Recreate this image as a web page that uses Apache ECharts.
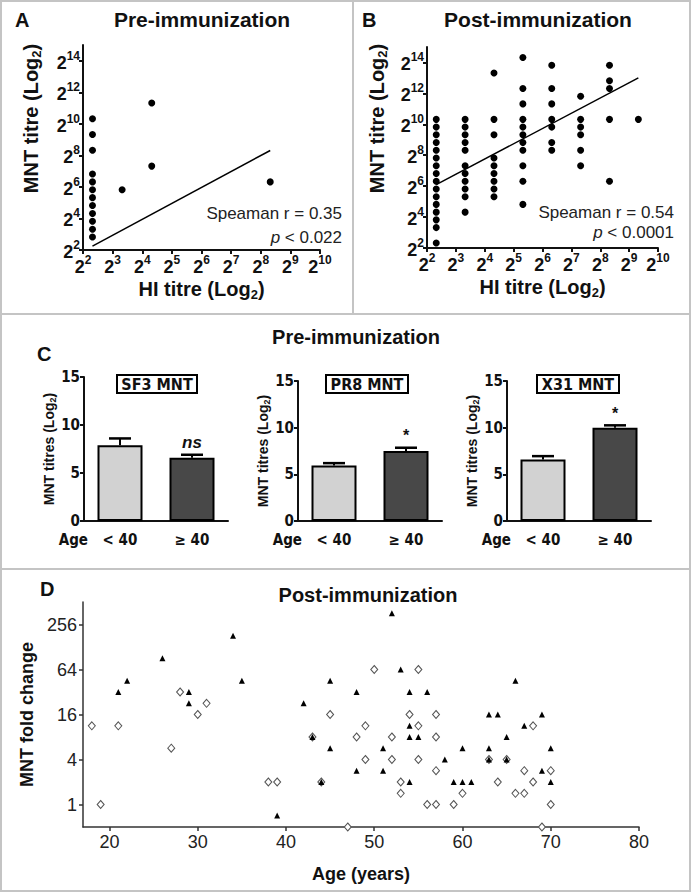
<!DOCTYPE html>
<html>
<head>
<meta charset="utf-8">
<title>MNT titres</title>
<script src="https://cdn.jsdelivr.net/npm/echarts@6.0.0/dist/echarts.min.js"></script>
<style>
  html, body { margin: 0; padding: 0; background: #fff; }
  #chart { width: 692px; height: 893px; }
</style>
</head>
<body>
<div id="chart"></div>
<script>
// A - pre-immunization, HI vs MNT (log2 titres)
const preHI  = [2.32, 2.32, 2.32, 2.32, 2.32, 2.32, 2.32, 2.32, 2.32, 2.32, 2.32, 2.32, 3.32, 4.32, 4.32, 8.32];
const preMNT = [10.32, 9.32, 8.32, 6.82, 6.32, 5.82, 5.32, 4.82, 4.32, 3.82, 3.32, 2.82, 5.82, 11.32, 7.32, 6.32];
const preFit = [[2.32, 2.25], [8.32, 8.31]];

// B - post-immunization, one list of MNT per HI column
const postHI = [2.32, 3.32, 4.32, 5.32, 6.32, 7.32, 8.32, 9.32];
const postMNT = [
  [10.32, 9.82, 9.32, 8.82, 8.32, 7.82, 7.32, 6.82, 6.32, 5.82, 5.32, 4.82, 4.32, 3.82, 3.32, 2.32],
  [10.32, 9.82, 9.32, 8.82, 8.32, 7.32, 6.82, 6.32, 5.82, 5.32, 4.32],
  [13.32, 10.32, 9.32, 7.82, 7.32, 6.82, 6.32, 5.82, 5.32],
  [14.32, 12.32, 11.32, 10.32, 9.82, 9.32, 8.82, 8.32, 7.32, 6.32, 4.82],
  [13.82, 12.32, 11.32, 10.32, 9.82, 8.82, 8.32],
  [11.82, 10.32, 9.82, 9.32, 8.32, 7.32],
  [13.82, 12.82, 12.32, 10.32, 6.32],
  [10.32]
];
const postFit = [[2.32, 6.1], [9.32, 13.0]];
const log2Ticks = [2, 4, 6, 8, 10, 12, 14];
const hiTicks = [2, 3, 4, 5, 6, 7, 8, 9, 10];

// C - mean MNT titres by age group
const ageGroups = ['< 40', '≥ 40'];
const sf3Mean = [7.9, 6.6],  sf3Err = [8.6, 6.9],   sf3Sig = ['', 'ns'];
const pr8Mean = [5.95, 7.5], pr8Err = [6.2, 7.85],  pr8Sig = ['', '*'];
const x31Mean = [6.6, 10.0], x31Err = [6.95, 10.25], x31Sig = ['', '*'];

// D - fold change vs age
const triAge  = [21, 22, 26, 29, 29, 34, 35, 39, 42, 43, 44, 45, 45, 48, 48, 51, 51, 52, 53, 54, 54, 54, 54, 55, 56, 58, 59, 60, 60, 61, 63, 63, 63, 64, 65, 65, 66, 67, 69, 69, 70, 70];
const triFold = [32, 45.3, 90.5, 32, 22.6, 181, 45.3, 0.71, 22.6, 8, 2, 45.3, 5.66, 32, 2.83, 5.66, 2.83, 362, 64, 32, 11.3, 8, 2, 8, 32, 4, 2, 5.66, 2, 2, 16, 5.66, 4, 16, 8, 4, 45.3, 11.3, 16, 2.83, 5.66, 2];
const diaAge  = [18, 19, 21, 27, 28, 30, 31, 38, 39, 43, 44, 45, 47, 48, 49, 49, 50, 52, 52, 53, 53, 54, 55, 55, 55, 56, 57, 57, 57, 57, 59, 60, 63, 64, 65, 66, 67, 67, 68, 68, 69, 70, 70];
const diaFold = [11.3, 1, 11.3, 5.66, 32, 16, 22.6, 2, 2, 8, 2, 16, 0.5, 8, 11.3, 4, 64, 8, 4, 2, 1.41, 16, 64, 11.3, 4, 1, 16, 8, 2.83, 1, 1, 1.41, 4, 2, 4, 1.41, 2.83, 1.41, 11.3, 2, 0.5, 2.83, 1];
const foldTicks = [1, 4, 16, 64, 256];
const ageTicks = [20, 30, 40, 50, 60, 70, 80];

const sans = '"Liberation Sans", Arial, sans-serif';
const narrow = '"Liberation Sans Narrow", "DejaVu Sans Condensed", sans-serif';
const ink = '#111';

const chart = echarts.init(document.getElementById('chart'), null, { renderer: 'svg' });

// label like 2^n with a raised exponent
const powRich = {
  b: { fontSize: 18, fontWeight: 'bold', fontFamily: sans, color: ink, lineHeight: 22, verticalAlign: 'bottom' },
  s: { fontSize: 12, fontWeight: 'bold', fontFamily: sans, color: ink, verticalAlign: 'top' }
};
const powFmt = v => '{b|2}{s|' + v + '}';
const subRich = { sub: { fontSize: 13, fontWeight: 'bold', fontFamily: sans, color: ink, verticalAlign: 'bottom' } };

function logAxisX(grid) {
  return {
    type: 'value', gridIndex: grid, min: 2, max: 10,
    name: 'HI titre (Log{sub|2})', nameLocation: 'middle', nameGap: 25,
    nameTextStyle: { fontSize: 20, fontWeight: 'bold', fontFamily: sans, color: ink, lineHeight: 24, rich: subRich },
    axisLine: { lineStyle: { color: ink, width: 2 } },
    axisTick: { length: 4, customValues: hiTicks, lineStyle: { color: ink, width: 2 } },
    axisLabel: { customValues: hiTicks, formatter: powFmt, rich: powRich, margin: 4 },
    splitLine: { show: false }
  };
}
function logAxisY(grid, gap) {
  return {
    type: 'value', gridIndex: grid, min: 2, max: 15,
    name: 'MNT titre (Log{sub|2})', nameLocation: 'middle', nameGap: gap,
    nameTextStyle: { fontSize: 20, fontWeight: 'bold', fontFamily: sans, color: ink, lineHeight: 24, padding: [0, 0, 0, 58], rich: subRich },
    axisLine: { lineStyle: { color: ink, width: 2 } },
    axisTick: { length: 4, customValues: log2Ticks, lineStyle: { color: ink, width: 2 } },
    axisLabel: { customValues: log2Ticks, formatter: powFmt, rich: powRich, margin: 3 },
    splitLine: { show: false }
  };
}
function barAxisX(grid) {
  return {
    type: 'category', gridIndex: grid, data: ageGroups,
    name: 'Age', nameLocation: 'start', nameGap: -4,
    nameTextStyle: { fontSize: 15, fontWeight: 'bold', fontFamily: narrow, color: ink, verticalAlign: 'top', padding: [11, 0, 0, 0] },
    axisLine: { lineStyle: { color: ink, width: 2 } },
    axisTick: { show: false },
    axisLabel: { fontSize: 15, fontWeight: 'bold', fontFamily: narrow, color: ink, margin: 11 }
  };
}
function barAxisY(grid) {
  return {
    type: 'value', gridIndex: grid, min: 0, max: 15, interval: 5,
    name: 'MNT titres (Log{sub|2})', nameLocation: 'middle', nameGap: 27,
    nameTextStyle: { fontSize: 14, fontWeight: 'bold', fontFamily: sans, color: ink, lineHeight: 17,
      rich: { sub: { fontSize: 9, fontWeight: 'bold', fontFamily: sans, color: ink, verticalAlign: 'bottom' } } },
    axisLine: { show: true, lineStyle: { color: ink, width: 2 } },
    axisTick: { show: true, length: 4, lineStyle: { color: ink, width: 2 } },
    axisLabel: { fontSize: 15, fontWeight: 'bold', fontFamily: narrow, color: ink, margin: 4 },
    splitLine: { show: false }
  };
}
function barSeries(axis, means) {
  return {
    type: 'bar', xAxisIndex: axis, yAxisIndex: axis, barWidth: 45,
    data: means.map((m, i) => ({ value: m, itemStyle: { color: i === 0 ? '#d2d2d2' : '#484848' } })),
    itemStyle: { borderColor: '#000', borderWidth: 2 }
  };
}
function errSeries(axis, means, errs, sigs) {
  return {
    type: 'custom', xAxisIndex: axis, yAxisIndex: axis, z: 3,
    data: means.map((m, i) => [i, m, errs[i]]),
    renderItem: (params, api) => {
      const base = api.coord([api.value(0), api.value(1)]);
      const top = api.coord([api.value(0), api.value(2)]);
      const kids = [
        { type: 'line', shape: { x1: base[0], y1: base[1], x2: top[0], y2: top[1] }, style: { stroke: '#000', lineWidth: 2 } },
        { type: 'line', shape: { x1: top[0] - 11, y1: top[1], x2: top[0] + 11, y2: top[1] }, style: { stroke: '#000', lineWidth: 2.5 } }
      ];
      const sig = sigs[params.dataIndex];
      if (sig) {
        kids.push({ type: 'text', x: top[0], y: top[1] - 4, style: {
          text: sig, align: 'center', verticalAlign: 'bottom', fill: ink,
          fontSize: sig === 'ns' ? 17 : 16, fontWeight: 'bold', fontStyle: sig === 'ns' ? 'italic' : 'normal', fontFamily: sans } });
      }
      return { type: 'group', children: kids };
    }
  };
}

const heading = (text, left, top, size, align) => ({
  text, left, top, padding: 0, textAlign: align,
  textStyle: { fontSize: size, fontWeight: 'bold', fontFamily: sans, color: ink }
});
const boxTitle = (text, center) => ({
  text, left: center - 5, top: 375, textAlign: 'center', padding: [1, 5, 0, 5],
  borderColor: '#000', borderWidth: 2,
  textStyle: { fontSize: 16, fontWeight: 'bold', fontFamily: narrow, color: ink, lineHeight: 17 }
});
const note = (text, x, y) => ({
  type: 'text', x, y, style: {
    text, align: 'right', verticalAlign: 'middle', fill: '#222', fontSize: 17, fontFamily: sans,
    rich: { i: { fontStyle: 'italic', fontSize: 17, fontFamily: sans, fill: '#222' } }
  }
});
const rule = (x1, y1, x2, y2) => ({ type: 'line', shape: { x1, y1, x2, y2 }, style: { stroke: '#c4c4c4', lineWidth: 2 } });

chart.setOption({
  backgroundColor: '#fff',
  animation: false,
  title: [
    heading('A', 15, 10, 20), heading('Pre-immunization', 202, 9, 21, 'center'),
    heading('B', 362, 10, 20), heading('Post-immunization', 538, 9, 21, 'center'),
    heading('Pre-immunization', 356, 327, 20, 'center'), heading('C', 37, 344, 20),
    boxTitle('SF3 MNT', 157), boxTitle('PR8 MNT', 367), boxTitle('X31 MNT', 578),
    heading('D', 40, 579, 20), heading('Post-immunization', 368, 585, 20, 'center')
  ],
  grid: [
    { left: 83, top: 45, width: 237, height: 205 },
    { left: 427, top: 47, width: 231, height: 201 },
    { left: 84, top: 377, width: 144, height: 144 },
    { left: 298, top: 381, width: 144, height: 140 },
    { left: 507, top: 381, width: 144, height: 140 },
    { left: 83, top: 602, width: 556, height: 225 }
  ],
  xAxis: [
    logAxisX(0), logAxisX(1),
    barAxisX(2), barAxisX(3), barAxisX(4),
    {
      type: 'value', gridIndex: 5, min: 17, max: 80,
      name: 'Age (years)', nameLocation: 'middle', nameGap: 38,
      nameTextStyle: { fontSize: 18, fontWeight: 'bold', fontFamily: sans, color: ink },
      axisLine: { lineStyle: { color: '#333', width: 1.5 } },
      axisTick: { length: 4, customValues: ageTicks, lineStyle: { color: '#333', width: 1.5 } },
      axisLabel: { customValues: ageTicks, fontSize: 18, fontFamily: sans, color: '#222', margin: 6 },
      splitLine: { show: false }
    }
  ],
  yAxis: [
    logAxisY(0, 40), logAxisY(1, 38),
    barAxisY(2), barAxisY(3), barAxisY(4),
    {
      type: 'log', logBase: 2, gridIndex: 5, min: 0.5, max: 512,
      name: 'MNT fold change', nameLocation: 'middle', nameGap: 36,
      nameTextStyle: { fontSize: 18, fontWeight: 'bold', fontFamily: sans, color: ink },
      axisLine: { lineStyle: { color: '#333', width: 1.5 } },
      axisTick: { length: 4, customValues: foldTicks, lineStyle: { color: '#333', width: 1.5 } },
      axisLabel: { customValues: foldTicks, fontSize: 18, fontFamily: sans, color: '#222', margin: 6 },
      splitLine: { show: false }
    }
  ],
  series: [
    { type: 'scatter', xAxisIndex: 0, yAxisIndex: 0, symbolSize: 7, itemStyle: { color: '#000', opacity: 1 },
      data: preHI.map((x, i) => [x, preMNT[i]]) },
    { type: 'line', xAxisIndex: 0, yAxisIndex: 0, data: preFit, symbol: 'none', lineStyle: { color: '#000', width: 1.5 } },
    { type: 'scatter', xAxisIndex: 1, yAxisIndex: 1, symbolSize: 7, itemStyle: { color: '#000', opacity: 1 },
      data: postHI.flatMap((x, i) => postMNT[i].map(y => [x, y])) },
    { type: 'line', xAxisIndex: 1, yAxisIndex: 1, data: postFit, symbol: 'none', lineStyle: { color: '#000', width: 1.5 } },
    barSeries(2, sf3Mean), errSeries(2, sf3Mean, sf3Err, sf3Sig),
    barSeries(3, pr8Mean), errSeries(3, pr8Mean, pr8Err, pr8Sig),
    barSeries(4, x31Mean), errSeries(4, x31Mean, x31Err, x31Sig),
    { type: 'scatter', xAxisIndex: 5, yAxisIndex: 5, symbol: 'diamond', symbolSize: [7, 8],
      itemStyle: { color: '#fff', borderColor: '#555', borderWidth: 1, opacity: 1 },
      data: diaAge.map((a, i) => [a, diaFold[i]]) },
    { type: 'scatter', xAxisIndex: 5, yAxisIndex: 5, symbol: 'triangle', symbolSize: 6,
      itemStyle: { color: '#000', opacity: 1 },
      data: triAge.map((a, i) => [a, triFold[i]]) }
  ],
  graphic: [
    { type: 'rect', shape: { x: 1, y: 1, width: 689, height: 890 }, style: { fill: 'none', stroke: '#c4c4c4', lineWidth: 2 } },
    rule(353, 1, 353, 314), rule(1, 314, 690, 314), rule(1, 569, 690, 569),
    note('Speaman r = 0.35', 342, 213), note('{i|p} < 0.022', 342, 237),
    note('Speaman r = 0.54', 674, 212), note('{i|p} < 0.0001', 674, 232)
  ]
});
</script>
</body>
</html>
